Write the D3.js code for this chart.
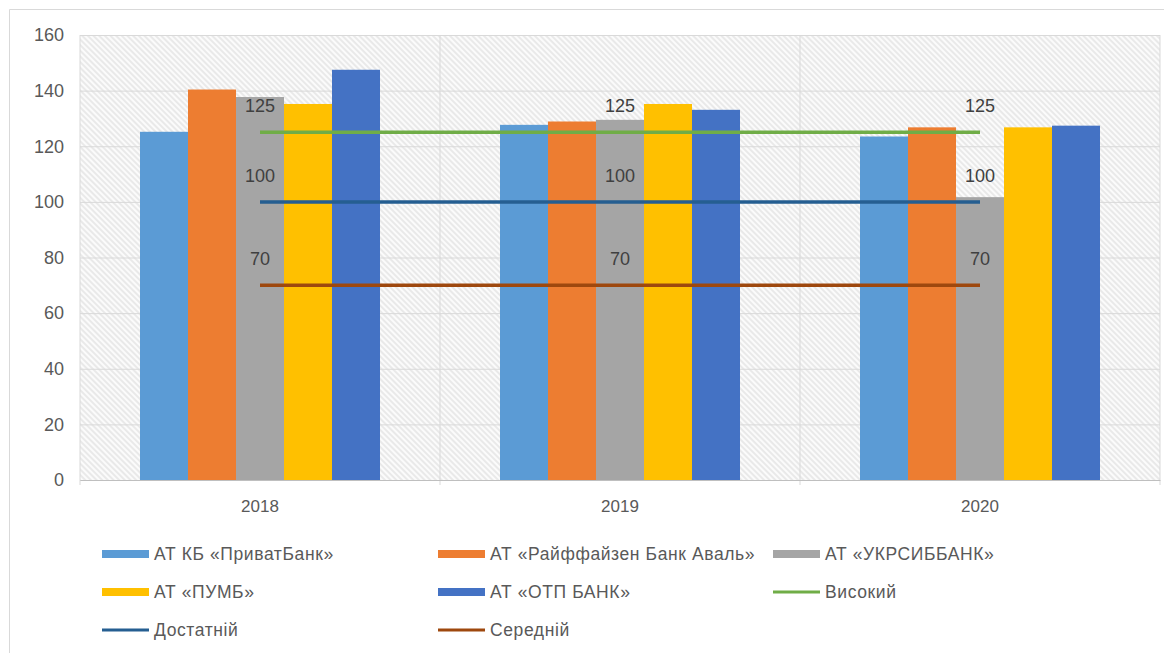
<!DOCTYPE html>
<html>
<head>
<meta charset="utf-8">
<script src="https://cdn.jsdelivr.net/npm/d3@7"></script>
<style>
  html, body { margin: 0; padding: 0; background: #fff; }
  svg { display: block; font-family: "Liberation Sans", Arial, sans-serif; }
</style>
</head>
<body>
<svg id="chart" width="1164" height="653"></svg>
<script>
const years = ['2018', '2019', '2020'];
const banks = ['АТ КБ «ПриватБанк»', 'АТ «Райффайзен Банк Аваль»', 'АТ «УКРСИББАНК»', 'АТ «ПУМБ»', 'АТ «ОТП БАНК»'];
const bankColors = ['#5B9BD5', '#ED7D31', '#A5A5A5', '#FFC000', '#4472C4'];

const privatBank = [125.2, 127.7, 123.5];
const raiffeisen = [140.4, 128.9, 126.8];
const ukrsib = [137.7, 129.5, 101.7];
const pumb = [135.2, 135.2, 126.8];
const otp = [147.5, 133.1, 127.4];

const levelNames = ['Високий', 'Достатній', 'Середній'];
const levelColors = ['#70AD47', '#255E91', '#9E480E'];
const high = [125, 125, 125];
const sufficient = [100, 100, 100];
const medium = [70, 70, 70];

const yTicks = [0, 20, 40, 60, 80, 100, 120, 140, 160];

const barSeries = [privatBank, raiffeisen, ukrsib, pumb, otp];
const lineSeries = [high, sufficient, medium];

const svg = d3.select('svg#chart');
const margin = { top: 35, right: 4, bottom: 173, left: 80 };
const innerWidth = 1164 - margin.left - margin.right;
const innerHeight = 653 - margin.top - margin.bottom;

// outer chart frame (runs off the right and bottom edges)
svg.append('path')
  .attr('d', 'M9.5,653 V9.5 H1164')
  .attr('fill', 'none')
  .attr('stroke', '#d9d9d9');

// hatch pattern for plot area
const defs = svg.append('defs');
const pattern = defs.append('pattern')
  .attr('id', 'hatch')
  .attr('patternUnits', 'userSpaceOnUse')
  .attr('width', 4).attr('height', 4)
  .attr('patternTransform', 'rotate(-45)');
pattern.append('rect').attr('width', 4).attr('height', 4).attr('fill', '#fbfbfb');
pattern.append('line')
  .attr('x1', 1).attr('y1', 0).attr('x2', 1).attr('y2', 4)
  .attr('stroke', '#dedede').attr('stroke-width', 1.2);

const g = svg.append('g')
  .attr('transform', `translate(${margin.left},${margin.top})`);

const x0 = d3.scaleBand()
  .domain(years)
  .range([0, innerWidth]);

const x1 = d3.scaleBand()
  .domain(d3.range(banks.length))
  .range([0, x0.bandwidth()])
  .paddingInner(0)
  .paddingOuter(1.25);

const yScale = d3.scaleLinear()
  .domain([0, 160])
  .range([innerHeight, 0]);

g.append('rect')
  .attr('width', innerWidth)
  .attr('height', innerHeight)
  .attr('fill', 'url(#hatch)');

// horizontal gridlines + y labels
const yAxis = d3.axisLeft(yScale)
  .tickValues(yTicks)
  .tickSize(-innerWidth)
  .tickPadding(16);
const yAxisG = g.append('g')
  .call(yAxis)
  .attr('font-family', null)
  .attr('font-size', 18);
yAxisG.select('.domain').remove();
yAxisG.selectAll('.tick line').attr('stroke', '#d9d9d9');
yAxisG.selectAll('.tick text').attr('fill', '#595959');

// vertical category boundaries
const boundaries = years.map(d => x0(d)).concat([innerWidth]);
g.selectAll('.vgrid').data(boundaries)
  .enter().append('line')
    .attr('class', 'vgrid')
    .attr('x1', d => d).attr('x2', d => d)
    .attr('y1', 0).attr('y2', innerHeight + 5)
    .attr('stroke', '#d9d9d9');

// x axis
const xAxis = d3.axisBottom(x0).tickSize(0).tickPadding(20);
const xAxisG = g.append('g')
  .attr('transform', `translate(0,${innerHeight})`)
  .call(xAxis)
  .attr('font-family', null)
  .attr('font-size', 17);
xAxisG.select('.domain').attr('stroke', '#bfbfbf');
xAxisG.selectAll('.tick text').attr('fill', '#595959');

// bars
const groups = g.selectAll('.year').data(years)
  .enter().append('g')
    .attr('class', 'year')
    .attr('transform', d => `translate(${x0(d)},0)`);

groups.selectAll('rect')
  .data((d, i) => barSeries.map((s, k) => ({ k: k, v: s[i] })))
  .enter().append('rect')
    .attr('x', d => x1(d.k))
    .attr('width', x1.bandwidth())
    .attr('y', d => yScale(d.v))
    .attr('height', d => innerHeight - yScale(d.v))
    .attr('fill', d => bankColors[d.k]);

// level lines
const line = d3.line()
  .x((d, i) => x0(years[i]) + x0.bandwidth() / 2)
  .y(d => yScale(d));

lineSeries.forEach((s, k) => {
  g.append('path')
    .datum(s)
    .attr('d', line)
    .attr('fill', 'none')
    .attr('stroke', levelColors[k])
    .attr('stroke-width', 3.5);
});

// data labels above the level lines
lineSeries.forEach((s, k) => {
  g.selectAll('.lbl' + k).data(s)
    .enter().append('text')
      .attr('class', 'lbl' + k)
      .attr('x', (d, i) => x0(years[i]) + x0.bandwidth() / 2)
      .attr('y', d => yScale(d) - 20)
      .attr('text-anchor', 'middle')
      .attr('fill', '#404040')
      .attr('font-size', 18)
      .text(d => d);
});

// legend
const legendItems = [
  { name: banks[0], color: bankColors[0], type: 'bar' },
  { name: banks[1], color: bankColors[1], type: 'bar' },
  { name: banks[2], color: bankColors[2], type: 'bar' },
  { name: banks[3], color: bankColors[3], type: 'bar' },
  { name: banks[4], color: bankColors[4], type: 'bar' },
  { name: levelNames[0], color: levelColors[0], type: 'line' },
  { name: levelNames[1], color: levelColors[1], type: 'line' },
  { name: levelNames[2], color: levelColors[2], type: 'line' }
];
const colX = [102, 438, 773];
const rowY = [554, 592, 630];

const legend = svg.append('g');
const item = legend.selectAll('g').data(legendItems)
  .enter().append('g')
    .attr('transform', (d, i) => `translate(${colX[i % 3]},${rowY[Math.floor(i / 3)]})`);

item.append('rect')
  .attr('x', 0)
  .attr('y', d => d.type === 'bar' ? -4 : -1.5)
  .attr('width', 47)
  .attr('height', d => d.type === 'bar' ? 8 : 3)
  .attr('fill', d => d.color);

item.append('text')
  .attr('x', 52)
  .attr('y', 6)
  .attr('fill', '#595959')
  .attr('font-size', 17.5)
  .attr('letter-spacing', 0.6)
  .text(d => d.name);
</script>
</body>
</html>
